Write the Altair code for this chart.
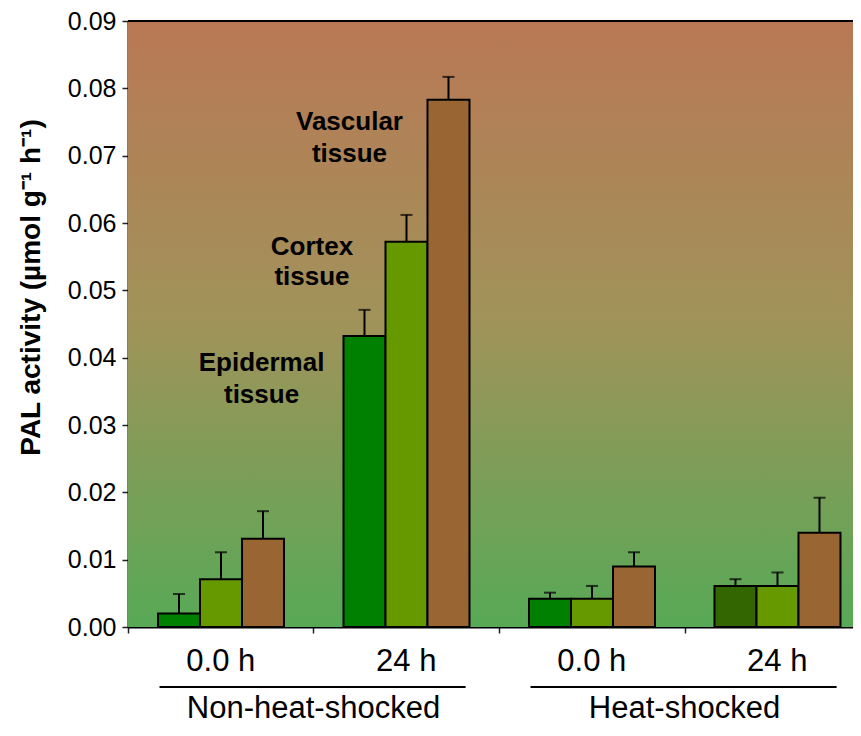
import altair as alt
import pandas as pd

# ---- data ----
times = ["0.0 h", "24 h", "0.0 h", "24 h"]
treatments = ["Non-heat-shocked", "Heat-shocked"]
tissues = ["Epidermal", "Cortex", "Vascular"]

epidermal = [0.0020, 0.0432, 0.0042, 0.0061]
cortex = [0.0071, 0.0572, 0.0042, 0.0061]
vascular = [0.0131, 0.0783, 0.0090, 0.0140]

epidermal_err = [0.0029, 0.0039, 0.0009, 0.0010]
cortex_err = [0.0040, 0.0040, 0.0019, 0.0020]
vascular_err = [0.0041, 0.0034, 0.0021, 0.0052]

ann_text = ["Vascular", "tissue", "Cortex", "tissue", "Epidermal", "tissue"]
ann_x = [1.194, 1.194, 0.992, 0.992, 0.720, 0.720]
ann_y = [0.0750, 0.0702, 0.0565, 0.0520, 0.0392, 0.0345]

# ---- tables ----
rows = []
for t, (name, vals, errs) in enumerate(zip(tissues,
                                          [epidermal, cortex, vascular],
                                          [epidermal_err, cortex_err, vascular_err])):
    for g in range(4):
        rows.append({"g": g, "t": t, "tissue": name, "value": vals[g],
                     "upper": vals[g] + errs[g]})
bars = pd.DataFrame(rows)
time_df = pd.DataFrame({"g": list(range(4)), "label": times})
treat_df = pd.DataFrame({"p": [0, 1], "label": treatments})
ann_df = pd.DataFrame({"text": ann_text, "x": ann_x, "y": ann_y})

W, H = 725, 606
FONT = "Liberation Sans, Arial, Helvetica, sans-serif"
XMAX = W / 185.5
OFF, BW = 0.1617, 0.2264

xs = alt.Scale(domain=[0, XMAX], nice=False, zero=False)
ys = alt.Scale(domain=[0, 0.09], nice=False)

bg = alt.Chart(pd.DataFrame({"a": [0]})).mark_rect(
    fill={"gradient": "linear", "x1": 0, "y1": 0, "x2": 0, "y2": 1,
          "stops": [{"offset": 0, "color": "#B97855"},
                    {"offset": 0.5, "color": "#A0935A"},
                    {"offset": 1, "color": "#57A956"}]}
).encode(x=alt.value(0), x2=alt.value(W), y=alt.value(0), y2=alt.value(H))

topline = alt.Chart(pd.DataFrame({"a": [0]})).mark_rule(
    color="black", strokeWidth=2
).encode(x=alt.value(0), x2=alt.value(W), y=alt.value(0))

base = alt.Chart(bars).transform_calculate(
    x0=f"datum.g + {OFF} + datum.t * {BW}",
    x1=f"datum.g + {OFF} + (datum.t + 1) * {BW}",
    xc=f"datum.g + {OFF} + (datum.t + 0.5) * {BW}",
)

bar = base.mark_rect(stroke="black", strokeWidth=2).encode(
    x=alt.X("x0:Q", scale=xs,
            axis=alt.Axis(values=[0, 1, 2, 3], labels=False, title=None,
                          grid=False, domainColor="black", domainWidth=2,
                          tickColor="#222", tickWidth=1.5, tickSize=6)),
    x2="x1:Q",
    y=alt.Y("value:Q", scale=ys,
            axis=alt.Axis(values=[0, 0.01, 0.02, 0.03, 0.04, 0.05, 0.06, 0.07, 0.08, 0.09],
                          format=".2f", grid=False, domainColor="black", domainWidth=2,
                          tickColor="#222", tickWidth=1.5, tickSize=6,
                          labelFont=FONT, labelFontSize=25, labelColor="black",
                          labelPadding=6,
                          title="PAL activity (µmol g⁻¹ h⁻¹)",
                          titleFont=FONT, titleFontSize=28, titleFontWeight="bold",
                          titleColor="black", titleX=-97, titleY=266,
                          titleAlign="center", titleBaseline="middle", titleAngle=-90)),
    fill=alt.condition("datum.g == 3 && datum.t == 0", alt.value("#336600"),
                       alt.Color("tissue:N",
                                 scale=alt.Scale(domain=tissues,
                                                 range=["#008000", "#669900", "#996633"]),
                                 legend=None)),
)

err = base.mark_rule(color="black", strokeWidth=2).encode(
    x=alt.X("xc:Q", scale=xs), y=alt.Y("value:Q", scale=ys), y2="upper:Q")
cap = base.mark_tick(color="black", orient="horizontal", size=12, thickness=2).encode(
    x=alt.X("xc:Q", scale=xs), y=alt.Y("upper:Q", scale=ys))

ann = alt.Chart(ann_df).mark_text(
    font=FONT, fontSize=26, fontWeight="bold", color="black",
    align="center", baseline="middle"
).encode(x=alt.X("x:Q", scale=xs), y=alt.Y("y:Q", scale=ys), text="text:N")

tlab = alt.Chart(time_df).transform_calculate(xc="datum.g + 0.5").mark_text(
    font=FONT, fontSize=31, color="black", align="center", baseline="alphabetic"
).encode(x=alt.X("xc:Q", scale=xs), y=alt.value(650), text="label:N")

tline = alt.Chart(treat_df).transform_calculate(
    a="datum.p * 2 + 0.17", b="datum.p * 2 + 1.82"
).mark_rule(color="black", strokeWidth=2).encode(
    x=alt.X("a:Q", scale=xs), x2="b:Q", y=alt.value(666))

glab = alt.Chart(treat_df).transform_calculate(xc="datum.p * 2 + 1").mark_text(
    font=FONT, fontSize=31, color="black", align="center", baseline="alphabetic"
).encode(x=alt.X("xc:Q", scale=xs), y=alt.value(697), text="label:N")

chart = alt.layer(bg, bar, err, cap, ann, tlab, tline, glab, topline).properties(
    width=W, height=H,
    autosize=alt.AutoSizeParams(type="none"),
    padding={"left": 120, "top": 13, "right": 0, "bottom": 101},
).configure_view(stroke=None)

chart.save("out.html", embed_options={"renderer": "svg", "actions": False})
